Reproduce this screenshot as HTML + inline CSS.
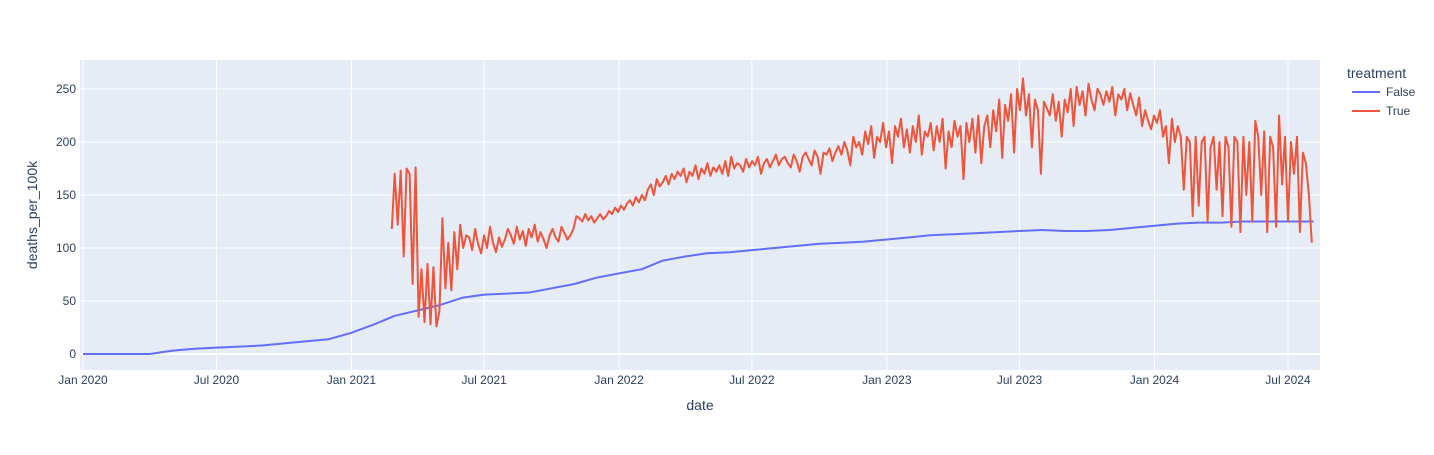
<!DOCTYPE html>
<html><head><meta charset="utf-8"><style>
body{margin:0;background:#fff;font-family:"Liberation Sans",Arial,sans-serif;}
svg text{font-family:"Liberation Sans",Arial,sans-serif;fill:#2a3f5f;}
</style></head><body>
<svg id="chart" width="1434" height="450" xmlns="http://www.w3.org/2000/svg">
<rect x="0" y="0" width="1434" height="450" fill="#fff"/>
<rect x="80" y="60" width="1240" height="310" fill="#E5ECF6"/>
<g id="grid"></g><g id="series"></g><g id="ticks"></g>
<text x="700" y="410" font-size="14" text-anchor="middle">date</text>
<text x="37" y="215" font-size="14" text-anchor="middle" transform="rotate(-90 37 215)">deaths_per_100k</text>
<g>
<text x="1347" y="78" font-size="14">treatment</text>
<g><line x1="1352" y1="92" x2="1380" y2="92" stroke="#636efa" stroke-width="2"/><text x="1386" y="96" font-size="12">False</text></g>
<g><line x1="1352" y1="111" x2="1380" y2="111" stroke="#EF553B" stroke-width="2"/><text x="1386" y="115" font-size="12">True</text></g>
</g>
</svg>
<script>
const xTickLabels=["Jan 2020","Jul 2020","Jan 2021","Jul 2021","Jan 2022","Jul 2022","Jan 2023","Jul 2023","Jan 2024","Jul 2024"];
const xTickDates=["2020-01-01","2020-07-01","2021-01-01","2021-07-01","2022-01-01","2022-07-01","2023-01-01","2023-07-01","2024-01-01","2024-07-01"];
const yTicks=[0,50,100,150,200,250];
const falseDates=["2020-01-01","2020-02-01","2020-03-01","2020-04-01","2020-05-01","2020-06-01","2020-07-01","2020-08-01","2020-09-01","2020-10-01","2020-11-01","2020-12-01","2021-01-01","2021-02-01","2021-03-01","2021-04-01","2021-05-01","2021-06-01","2021-07-01","2021-08-01","2021-09-01","2021-10-01","2021-11-01","2021-12-01","2022-01-01","2022-02-01","2022-03-01","2022-04-01","2022-05-01","2022-06-01","2022-07-01","2022-08-01","2022-09-01","2022-10-01","2022-11-01","2022-12-01","2023-01-01","2023-02-01","2023-03-01","2023-04-01","2023-05-01","2023-06-01","2023-07-01","2023-08-01","2023-09-01","2023-10-01","2023-11-01","2023-12-01","2024-01-01","2024-02-01","2024-03-01","2024-04-01","2024-05-01","2024-06-01","2024-07-01","2024-08-05"];
const falseValues=[0,0,0,0,3,5,6,7,8,10,12,14,20,28,36,41,46,53,56,57,58,62,66,72,76,80,88,92,95,96,98,100,102,104,105,106,108,110,112,113,114,115,116,117,116,116,117,119,121,123,124,124,125,125,125,125];
const trueStart="2021-02-25";
const trueStepDays=4.06;
const trueValues=[118,170,122,173,92,175,170,66,176,35,
80,30,85,28,82,26,40,128,62,105,
60,115,80,122,100,112,110,98,118,104,
95,112,100,120,105,96,110,101,108,118,
112,104,120,108,116,102,118,110,122,106,
115,108,100,112,118,110,106,120,114,108,
112,118,130,128,125,132,126,130,124,128,
132,127,130,135,132,138,134,140,136,142,
145,140,148,143,150,145,155,160,150,165,
158,162,168,160,170,165,172,168,175,162,
172,168,178,165,175,170,180,168,176,172,
178,170,182,168,186,175,180,178,172,184,
176,182,178,186,170,180,184,176,182,188,
178,184,186,180,176,188,182,172,186,190,
184,178,192,186,170,190,188,194,182,190,
196,188,200,192,178,205,195,200,188,210,
198,215,185,205,200,218,195,210,180,215,
205,222,195,212,190,215,200,225,188,210,
205,218,192,215,200,222,175,210,195,220,
205,215,165,218,200,222,190,225,180,215,
225,195,230,210,240,185,235,220,245,190,
250,230,260,225,245,195,240,230,170,238,
232,225,245,220,238,205,240,228,250,215,
252,235,248,225,255,240,230,250,245,235,
248,238,252,225,245,240,250,230,246,235,
225,242,215,230,220,212,225,218,230,205,
215,180,222,200,215,205,155,205,200,130,
205,140,200,205,125,195,205,155,200,130,
205,195,120,205,200,115,205,150,200,125,
220,205,150,210,115,205,195,120,225,160,
205,125,200,170,205,115,190,180,150,105];

const NS="http://www.w3.org/2000/svg";
const t0=Date.UTC(2020,0,1);
function day(s){const p=s.split("-");return (Date.UTC(+p[0],+p[1]-1,+p[2])-t0)/864e5;}
function X(d){return 83+d*0.7334;}
function Y(v){return 354-v*1.06;}
function mk(tag,attrs,parent){const e=document.createElementNS(NS,tag);for(const k in attrs)e.setAttribute(k,attrs[k]);parent.appendChild(e);return e;}
const grid=document.getElementById("grid"),ticks=document.getElementById("ticks"),series=document.getElementById("series");
xTickDates.forEach((d,i)=>{const x=X(day(d));
 const l=mk("line",{x1:x,x2:x,y1:60,y2:370,stroke:"#fff","stroke-width":1},grid);
 
 
 const t=mk("text",{x:x,y:384,"font-size":12,"text-anchor":"middle"},ticks);t.textContent=xTickLabels[i];
 
 
});
yTicks.forEach(v=>{const y=Y(v);
 const l=mk("line",{x1:80,x2:1320,y1:y,y2:y,stroke:"#fff","stroke-width":v===0?2:1},grid);
 
 
 const t=mk("text",{x:76,y:y+4,"font-size":12,"text-anchor":"end"},ticks);t.textContent=v;
 
 
});
const pf=falseValues.map((v,i)=>X(day(falseDates[i])).toFixed(1)+","+Y(v).toFixed(1)).join(" ");
const s0=day(trueStart);
const pt=trueValues.map((v,i)=>X(s0+i*trueStepDays).toFixed(1)+","+Y(v).toFixed(1)).join(" ");
const lf=mk("polyline",{points:pf,fill:"none",stroke:"#636efa","stroke-width":2,"stroke-linejoin":"round"},series);


const lt=mk("polyline",{points:pt,fill:"none",stroke:"#EF553B","stroke-width":2,"stroke-linejoin":"round"},series);


</script>
</body></html>
